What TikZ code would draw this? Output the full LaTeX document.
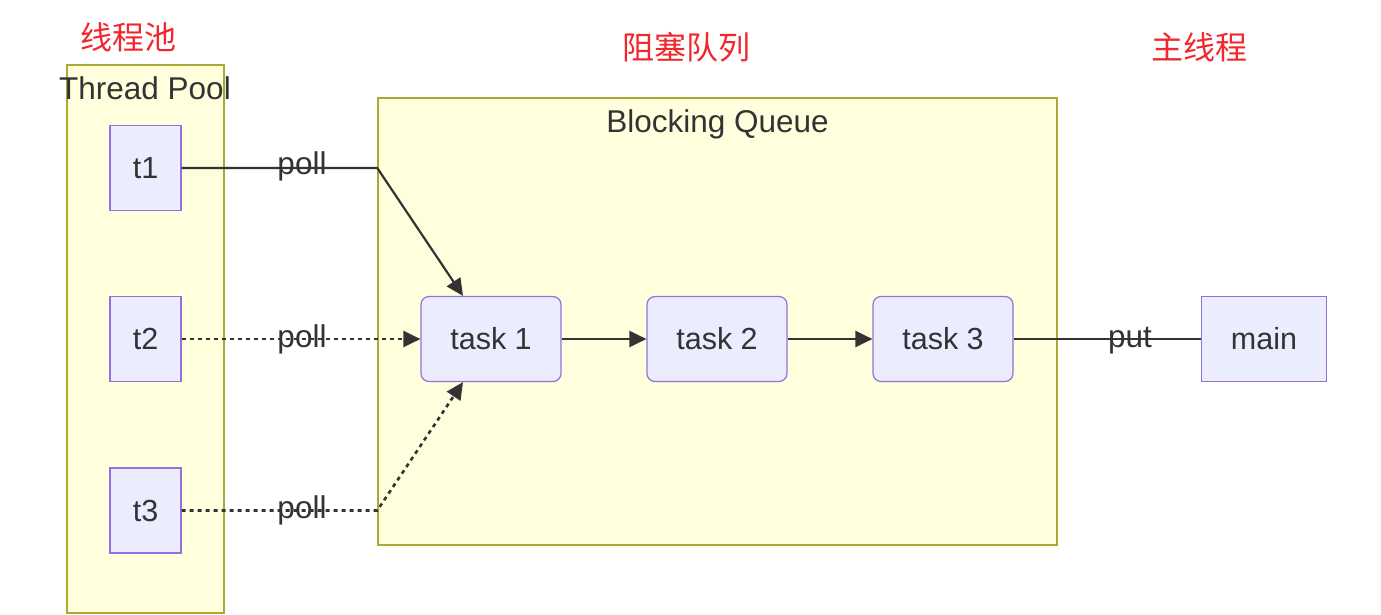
\documentclass[tikz,border=0pt]{standalone}
\usepackage{fontspec}
\setmainfont{Liberation Sans}
\newfontfamily\cjk{Noto Sans CJK SC}
\usetikzlibrary{arrows.meta,positioning,calc}
\definecolor{mmnode}{HTML}{ECECFF}
\definecolor{mmborder}{HTML}{9370DB}
\definecolor{mmcluster}{HTML}{FFFFDE}
\definecolor{mmclusterline}{HTML}{AAAA33}
\definecolor{mmedge}{HTML}{333333}
\definecolor{mmred}{HTML}{F0282D}

\begin{document}
\begin{tikzpicture}[x=1pt,y=-1pt,
  cluster/.style={draw=mmclusterline,fill=mmcluster,line width=1.5pt,inner sep=0pt},
  thread/.style={draw=mmborder,fill=mmnode,line width=1.2pt,minimum width=71pt,
    minimum height=85pt,inner sep=0pt,font=\fontsize{30.5}{36}\selectfont,text=mmedge},
  task/.style={thread,rounded corners=8pt,minimum width=140pt},
  edge/.style={draw=mmedge,line width=2.2pt},
  tip/.style={-{Triangle[length=17pt,width=16pt]}},
  dots/.style={line width=2.6pt,dash pattern=on 4pt off 4pt},
  lbl/.style={font=\fontsize{31.5}{38}\selectfont,text=mmedge,anchor=base},
  title/.style={font=\cjk\fontsize{32}{38}\selectfont,text=mmred}]

  \useasboundingbox (0,0) rectangle (1381,615);

  % ---- Red headings ----------------------------------------
  \node[title] (pooltitle)  at (128,37)  {线程池};
  \node[title] (queuetitle) at (686,47)  {阻塞队列};
  \node[title] (maintitle)  at (1199,47) {主线程};

  % ---- Clusters --------------------------------------------
  \node[cluster,minimum width=157pt,minimum height=548pt] (pool) at (145.5,339) {};
  \node[lbl] (poolname) at (145,100) {Thread Pool};
  \node[cluster,minimum width=679pt,minimum height=447pt] (queue) at (717.5,321.5) {};
  \node[lbl] (queuename) at (717.5,133) {Blocking Queue};

  % ---- Threads, tasks and main -----------------------------
  \node[thread] (t1) at (145.5,168)   {t1};
  \node[thread] (t2) at (145.5,339)   {t2};
  \node[thread] (t3) at (145.5,510.5) {t3};
  \node[task] (task1) at (491,339) {task 1};
  \node[task] (task2) at (717,339) {task 2};
  \node[task] (task3) at (943,339) {task 3};
  \node[thread,minimum width=125pt] (main) at (1264,339) {main};

  % ---- Connectors ------------------------------------------
  \draw[edge,tip] (t1.east) -- (t1.east -| queue.west) -- ($(task1.north)+(-28,0)$);
  \draw[edge,dots,tip] (t2) -- (task1);
  \draw[edge,dots,tip] (t3.east) -- (t3.east -| queue.west) -- ($(task1.south)+(-28,0)$);
  \draw[edge,tip] (task1) -- (task2);
  \draw[edge,tip] (task2) -- (task3);
  \draw[edge] (main) -- (task3);

  % Labels sit on the lines
  \node[lbl] (poll1) at (302,175) {poll};
  \node[lbl] (poll2) at (302,347) {poll};
  \node[lbl] (poll3) at (302,518) {poll};
  \node[lbl] (put)   at (1130,347) {put};

\end{tikzpicture}
\end{document}
